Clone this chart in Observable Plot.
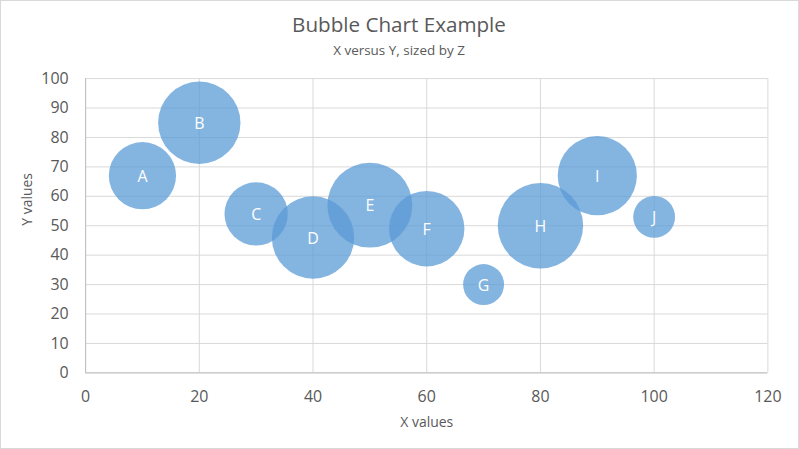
<!DOCTYPE html>
<html>
<head>
<meta charset="utf-8">
<script src="https://cdn.jsdelivr.net/npm/d3@7"></script>
<script src="https://cdn.jsdelivr.net/npm/@observablehq/plot@0.6"></script>
<style>
  html, body { margin: 0; padding: 0; background: #fff; }
  #chart { position: relative; width: 799px; height: 449px; box-sizing: border-box; border: 1px solid #d9d9d9; overflow: hidden; }
  #chart svg { position: absolute; left: -1px; top: -1px; }
</style>
</head>
<body>
<div id="chart"></div>
<script>
const names = ["A", "B", "C", "D", "E", "F", "G", "H", "I", "J"];
const xValues = [10, 20, 30, 40, 50, 60, 70, 80, 90, 100];
const yValues = [67, 85, 54, 46, 57, 49, 30, 50, 67, 53];
const zValues = [62, 93, 55, 93, 99, 78, 23, 100, 86, 24];
const xTicks = [0, 20, 40, 60, 80, 100, 120];
const yTicks = [0, 10, 20, 30, 40, 50, 60, 70, 80, 90, 100];
const title = "Bubble Chart Example";
const subtitle = "X versus Y, sized by Z";
const xLabel = "X values";
const yLabel = "Y values";

const data = names.map((n, i) => ({name: n, x: xValues[i], y: yValues[i], z: zValues[i]}));

const chart = Plot.plot({
  width: 799,
  height: 449,
  marginLeft: 85.3,
  marginRight: 29.7,
  marginTop: 78.3,
  marginBottom: 75.7,
  style: {fontFamily: "'Open Sans', sans-serif", background: "transparent", color: "#595959"},
  x: {domain: [0, 120]},
  y: {domain: [0, 100]},
  r: {type: "sqrt", domain: [0, 100], range: [0, 42.8]},
  marks: [
    Plot.gridX(xTicks, {stroke: "#d9d9d9", strokeOpacity: 1}),
    Plot.gridY(yTicks, {stroke: "#d9d9d9", strokeOpacity: 1}),
    Plot.ruleX([0], {stroke: "#bfbfbf"}),
    Plot.ruleY([0], {stroke: "#bfbfbf"}),
    Plot.axisX(xTicks, {tickSize: 0, tickPadding: 18, label: null, fontSize: 16, fill: "#595959"}),
    Plot.axisY(yTicks, {tickSize: 0, tickPadding: 17, label: null, fontSize: 16, fill: "#595959"}),
    Plot.dot(data, {x: "x", y: "y", r: "z", fill: "#5b9bd5", fillOpacity: 0.75, stroke: null}),
    Plot.text(data, {x: "x", y: "y", text: "name", fill: "#ffffff", fontSize: 16, dy: 1}),
    Plot.text([xLabel], {frameAnchor: "bottom", lineAnchor: "middle", dy: 49.5, fontSize: 14, fill: "#595959"}),
    Plot.text([yLabel], {frameAnchor: "left", dx: -58.6, rotate: -90, fontSize: 14, fill: "#595959"}),
    Plot.text([title], {frameAnchor: "top", lineAnchor: "middle", dx: -27.8, dy: -53.3, fontSize: 20.7, fill: "#595959"}),
    Plot.text([subtitle], {frameAnchor: "top", lineAnchor: "middle", dx: -27.8, dy: -28, fontSize: 13.5, fill: "#595959"})
  ]
});
document.getElementById("chart").appendChild(chart);
</script>
</body>
</html>
